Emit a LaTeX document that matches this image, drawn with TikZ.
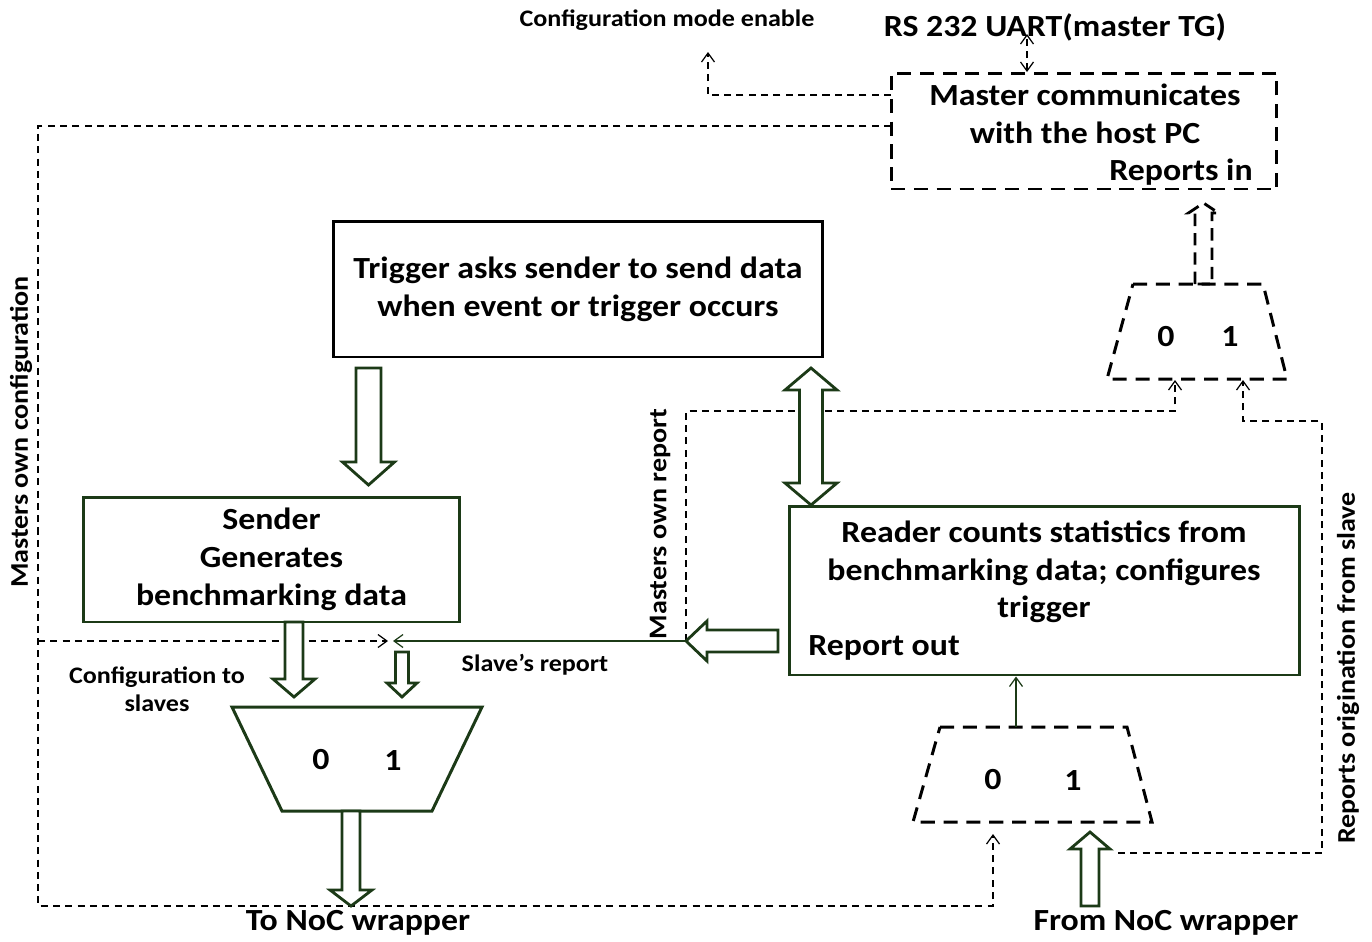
\documentclass[tikz,border=0pt]{standalone}
\usepackage{fontspec}
\setmainfont{Carlito}[FakeStretch=1.1]
\usetikzlibrary{arrows.meta,calc}
\definecolor{boxgreen}{HTML}{1C3A17}

% hollow block arrow: [opts]{from}{to}{shaft half width}{head half width}{head length}
\newcommand{\hollowarrow}[6][]{%
  \coordinate (hd) at ($(#3)!#6!(#2)$);
  \draw[blockarr,#1] ($(#2)!#4!90:(#3)$) -- ($(hd)!#4!90:(#3)$) -- ($(hd)!#5!90:(#3)$) -- (#3)
    -- ($(hd)!#5!-90:(#3)$) -- ($(hd)!#4!-90:(#3)$) -- ($(#2)!#4!-90:(#3)$) -- cycle;}
\newcommand{\hollowdblarrow}[6][]{%
  \coordinate (hda) at ($(#2)!#6!(#3)$);
  \coordinate (hdb) at ($(#3)!#6!(#2)$);
  \draw[blockarr,#1] (#2) -- ($(hda)!#5!90:(#3)$) -- ($(hda)!#4!90:(#3)$) -- ($(hdb)!#4!90:(#3)$)
    -- ($(hdb)!#5!90:(#3)$) -- (#3) -- ($(hdb)!#5!-90:(#3)$) -- ($(hdb)!#4!-90:(#3)$)
    -- ($(hda)!#4!-90:(#3)$) -- ($(hda)!#5!-90:(#3)$) -- cycle;}

\begin{document}
\begin{tikzpicture}[x=0.02cm, y=-0.02cm,
  boxtxt/.style={inner sep=0pt, align=center, font=\fontsize{17.5}{21.5}\selectfont\bfseries},
  lbl/.style={inner sep=0pt, align=center, font=\fontsize{13.5}{16}\selectfont\bfseries},
  sidelbl/.style={inner sep=0pt, rotate=90, font=\fontsize{14.5}{17}\selectfont\bfseries},
  solidbox/.style={rectangle, draw=boxgreen, line width=1.7pt, inner sep=0pt},
  dashbox/.style={rectangle, draw=black, line width=1.7pt, dash pattern=on 8pt off 5pt, inner sep=0pt},
  muxsolid/.style={draw=boxgreen, line width=1.7pt, line join=miter},
  muxdash/.style={draw=black, line width=1.7pt, dash pattern=on 8pt off 5pt},
  blockarr/.style={draw=boxgreen, line width=1.6pt, fill=white},
  dashblock/.style={draw=black, fill=none, line width=1.6pt, dash pattern=on 7pt off 4pt},
  dasharr/.style={draw=black, line width=0.7pt, dash pattern=on 4pt off 3pt, -{Straight Barb[length=1.8mm,width=2.6mm]}},
  thinarr/.style={draw=boxgreen, line width=0.7pt, -{Straight Barb[length=1.8mm,width=2.6mm]}}
]
  \useasboundingbox (0,0) rectangle (1372,941);

  % boxes
  \node[solidbox, draw=black, minimum width=9.8cm, minimum height=2.72cm, boxtxt] (trigger) at (578,289) {Trigger asks sender to send data\\when event or trigger occurs};
  \node[solidbox, minimum width=7.54cm, minimum height=2.5cm, boxtxt] (sender) at (271.5,559.5) {Sender\\Generates\\benchmarking data};
  \node[solidbox, minimum width=10.22cm, minimum height=3.38cm] (reader) at (1044.5,590.5) {};
  \node[boxtxt] (readertxt) at (1044,572) {Reader counts statistics from\\benchmarking data; configures\\trigger};
  \node[boxtxt, anchor=west] (reportout) at (808,648) {Report out};
  \node[dashbox, minimum width=7.72cm, minimum height=2.32cm] (master) at (1084,131) {};
  \node[boxtxt] (mastertxt) at (1085,114) {Master communicates\\with the host PC};
  \node[boxtxt, anchor=east] (reportsin) at (1253,172) {Reports in};

  % multiplexers
  \draw[muxsolid] (232,707) -- (482,707) -- (432,811) -- (282,811) -- cycle;
  \draw[muxdash] (1133,284) -- (1263,284) -- (1287,379) -- (1107,379) -- cycle;
  \draw[muxdash] (940,727) -- (1127,727) -- (1152,822) -- (913,822) -- cycle;
  \node[boxtxt] (send0) at (321,760) {0};
  \node[boxtxt] (send1) at (393,760) {1};
  \node[boxtxt] (rep0) at (1166,337) {0};
  \node[boxtxt] (rep1) at (1230,337) {1};
  \node[boxtxt] (recv0) at (993,780) {0};
  \node[boxtxt] (recv1) at (1073,780) {1};

  % labels
  \node[lbl] (modelbl) at (667,20) {Configuration mode enable};
  \node[boxtxt] (uart) at (1055,27) {RS 232 UART(master TG)};
  \node[lbl] (cfglbl) at (157,689) {Configuration to\\slaves};
  \node[lbl] (slavelbl) at (535,665) {Slave’s report};
  \node[boxtxt] (tonoc) at (358,923) {To NoC wrapper};
  \node[boxtxt] (fromnoc) at (1166,923) {From NoC wrapper};
  \node[sidelbl] (owncfglbl) at (21,432) {Masters own configuration};
  \node[sidelbl] (ownreplbl) at (660,524) {Masters own report};
  \node[sidelbl] (slaveoriglbl) at (1348,668) {Reports origination from slave};

  % end points
  \coordinate (trigout) at (368.5,368);
  \coordinate (sendin) at (368.5,485);
  \coordinate (trigport) at (811,368);
  \coordinate (readport) at (811,505);
  \coordinate (sendout) at (294,622);
  \coordinate (sendsel0) at (294,697);
  \coordinate (reptop) at (402,652);
  \coordinate (sendsel1) at (402,697);
  \coordinate (sendmuxout) at (351,811);
  \coordinate (nocout) at (351,906);
  \coordinate (readout) at (778,641);
  \coordinate (ownrep) at (686,641);
  \coordinate (nocin) at (1090,906);
  \coordinate (recvsel1) at (1090,832);
  \coordinate (repmuxout) at (1203.5,284);
  \coordinate (masterin) at (1203.5,203);
  \coordinate (cfgtap) at (891,126);
  \coordinate (cfgrail) at (38,906);
  \coordinate (cfgsplit) at (38,641);
  \coordinate (cfgmeet) at (388,641);
  \coordinate (repmeet) at (393,641);
  \coordinate (recvsel0) at (993,834);
  \coordinate (modetap) at (891,95);
  \coordinate (modeout) at (708,52);
  \coordinate (uartport) at (1027,34);
  \coordinate (masterport) at (1027,72);
  \coordinate (ownrepturn) at (1175,411);
  \coordinate (repsel0) at (1175,380);
  \coordinate (slavetap) at (1118,853);
  \coordinate (slaverail) at (1322,421);
  \coordinate (repsel1) at (1243,380);
  \coordinate (recvout) at (1016,727);

  % thin connectors
  \draw[dasharr] (cfgtap) -| (cfgrail) -| (recvsel0);
  \draw[dasharr] (cfgsplit) -- (cfgmeet);
  \draw[dasharr] (modetap) -| (modeout);
  \draw[dasharr, {Straight Barb[length=1.8mm,width=2.6mm]}-{Straight Barb[length=1.8mm,width=2.6mm]}] (masterport) -- (uartport);
  \draw[dasharr] (ownrep) |- (ownrepturn) -- (repsel0);
  \draw[dasharr] (slavetap) -| (slaverail) -| (repsel1);
  \draw[thinarr] (ownrep) -- (repmeet);
  \draw[thinarr] (recvout) -- (recvout |- reader.south);

  % block arrows
  \hollowarrow{trigout}{sendin}{0.25cm}{0.52cm}{0.46cm}
  \hollowdblarrow{trigport}{readport}{0.23cm}{0.52cm}{0.44cm}
  \hollowarrow{sendout}{sendsel0}{0.18cm}{0.42cm}{0.36cm}
  \hollowarrow{reptop}{sendsel1}{0.13cm}{0.3cm}{0.28cm}
  \hollowarrow{sendmuxout}{nocout}{0.18cm}{0.42cm}{0.32cm}
  \hollowarrow{readout}{ownrep}{0.22cm}{0.4cm}{0.42cm}
  \hollowarrow{nocin}{recvsel1}{0.18cm}{0.4cm}{0.34cm}
  \hollowarrow[dashblock]{repmuxout}{masterin}{0.17cm}{0.3cm}{0.2cm}
\end{tikzpicture}
\end{document}
